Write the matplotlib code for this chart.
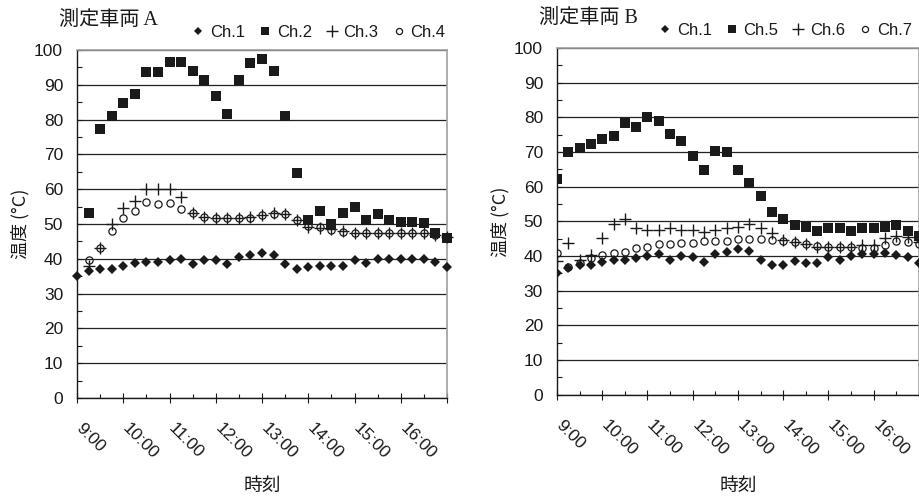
import numpy as np
import matplotlib
matplotlib.use('Agg')
import matplotlib.pyplot as plt
from matplotlib.lines import Line2D
from matplotlib.transforms import ScaledTranslation

nan = np.nan

# measurement times: every 15 minutes from 9:00 to 17:00 (hours)
time_h = np.arange(9.0, 17.01, 0.25)
tick_hours = [9, 10, 11, 12, 13, 14, 15, 16]
tick_labels = ['9:00', '10:00', '11:00', '12:00', '13:00', '14:00', '15:00', '16:00']

# vehicle A
a_ch1 = [35.0, 36.6, 37.0, 37.0, 37.9, 38.7, 39.2, 39.2, 39.7, 40.0, 38.5, 39.7, 39.7, 38.5, 40.6, 41.1, 41.8,
         41.1, 38.5, 37.0, 37.5, 37.9, 37.9, 37.9, 39.7, 38.7, 40.0, 40.0, 40.0, 40.0, 40.0, 39.1, 37.5]
a_ch2 = [nan, 53.2, 77.3, 81.0, 84.7, 87.4, 93.6, 93.6, 96.6, 96.6, 94.1, 91.4, 86.8, 81.6, 91.4, 96.2, 97.3,
         94.1, 81.0, 64.7, 51.1, 53.8, 49.9, 53.2, 55.0, 51.1, 52.8, 51.1, 50.7, 50.7, 50.2, 47.5, 46.1]
a_ch3 = [nan, 38.0, 43.2, 50.0, 54.7, 56.7, 60.0, 60.0, 60.0, 57.7, 53.2, 52.1, 51.6, 51.6, 51.6, 51.9, 52.6,
         53.2, 52.9, 51.1, 49.2, 48.9, 48.5, 48.0, 47.5, 47.5, 47.5, 47.5, 47.5, 47.5, 47.5, 46.8, 46.2]
a_ch4 = [nan, 39.7, 43.2, 48.1, 51.6, 53.7, 56.2, 55.7, 55.9, 54.2, 53.2, 52.1, 51.6, 51.6, 51.6, 51.6, 52.6,
         53.0, 52.9, 51.1, 49.4, 49.0, 48.3, 47.8, 47.3, 47.3, 47.3, 47.3, 47.3, 47.3, 47.3, 46.8, 46.2]

# vehicle B
b_ch1 = [35.2, 36.5, 37.4, 37.4, 38.4, 38.8, 38.8, 39.3, 40.0, 40.6, 38.8, 40.0, 39.6, 38.4, 40.6, 41.2, 42.0,
         41.5, 38.8, 37.4, 37.4, 38.6, 37.9, 37.9, 39.8, 38.8, 40.0, 40.6, 40.6, 40.8, 40.3, 39.6, 38.1]
b_ch5 = [62.1, 69.9, 71.0, 72.2, 73.6, 74.7, 78.4, 77.3, 80.0, 78.9, 75.2, 73.1, 68.8, 64.8, 70.3, 69.9, 64.8,
         61.1, 57.4, 52.6, 50.6, 48.9, 48.4, 47.3, 48.0, 48.0, 47.3, 48.0, 48.0, 48.4, 48.9, 47.3, 45.8]
b_ch6 = [38.6, 43.8, 38.8, 40.3, 45.1, 49.2, 50.6, 48.0, 47.5, 47.5, 48.0, 47.5, 47.5, 47.0, 47.5, 48.0, 48.4,
         49.2, 48.0, 46.5, 44.6, 44.1, 43.5, 42.7, 42.7, 42.7, 42.7, 43.2, 43.2, 45.1, 45.8, 45.4, 44.1]
b_ch7 = [40.8, 36.7, 38.0, 39.3, 40.3, 40.8, 41.2, 42.2, 42.7, 43.4, 43.4, 43.8, 43.8, 44.3, 44.3, 44.3, 44.8,
         44.8, 44.8, 44.6, 44.3, 43.9, 43.4, 43.0, 42.7, 42.7, 42.7, 42.2, 42.2, 43.2, 44.3, 43.9, 43.5]

plt.rcParams['font.family'] = ['Liberation Sans', 'Noto Sans CJK JP']
ink = '#1a1a1a'
cjk = ['Noto Sans CJK JP']

styles = [
    dict(marker='D', ms=4.8, mfc=ink, mec=ink, mew=0),
    dict(marker='s', ms=6.8, mfc=ink, mec=ink, mew=0),
    dict(marker='+', ms=8.5, mfc='none', mec=ink, mew=1.0),
    dict(marker='o', ms=5.2, mfc='none', mec=ink, mew=0.9),
]
legend_styles = [
    dict(marker='D', ms=3.8, mfc=ink, mec=ink, mew=0),
    dict(marker='s', ms=5.8, mfc=ink, mec=ink, mew=0),
    dict(marker='+', ms=9, mfc='none', mec=ink, mew=1.0),
    dict(marker='o', ms=4.4, mfc='none', mec=ink, mew=0.9),
]

fig = plt.figure(figsize=(9.2, 4.97), dpi=100)
ax_a = fig.add_axes([0.0837, 0.1992, 0.4022, 0.7002])
ax_b = fig.add_axes([0.6054, 0.2056, 0.3935, 0.6982])


def draw_panel(ax, series, names, title, clip, leg_x):
    for vals, st in zip(series, styles):
        ax.plot(time_h, vals, linestyle='none', clip_on=clip, zorder=3, **st)
    ax.set_xlim(9, 17)
    ax.set_ylim(0, 100)
    ax.set_yticks(range(0, 101, 10))
    ax.set_yticks(range(5, 100, 10), minor=True)
    ax.set_xticks(list(range(9, 18)))
    ax.set_xticklabels(tick_labels + [''])
    ax.set_xticks(np.arange(9.5, 17, 1.0), minor=True)
    ax.grid(axis='y', which='major', color='#222222', linewidth=0.9, zorder=1)
    ax.tick_params(axis='y', which='both', direction='in', length=3.5, width=0.8, colors=ink,
                   labelsize=12.5, pad=10)
    ax.tick_params(axis='x', which='major', direction='inout', length=7, width=0.8, colors=ink,
                   labelsize=12.5, pad=13)
    ax.tick_params(axis='x', which='minor', direction='in', length=3, width=0.8, colors=ink)
    for lab in ax.get_xticklabels():
        lab.set_rotation(-45)
        lab.set_ha('left')
        lab.set_va('top')
        lab.set_rotation_mode('anchor')
        lab.set_transform(lab.get_transform() + ScaledTranslation(7 / 100, 0, fig.dpi_scale_trans))
    for s in ['left', 'bottom']:
        ax.spines[s].set_color(ink)
        ax.spines[s].set_linewidth(1.0)
    for s in ['top', 'right']:
        ax.spines[s].set_color('#a0a0a0')
        ax.spines[s].set_linewidth(1.2)
    ax.set_ylabel('温度 (°C)', family=cjk, fontsize=13, labelpad=3, color=ink)
    # x label placed in figure coordinates, centred under the axes
    box = ax.get_position()
    fig.text((box.x0 + box.x1) / 2, 1 - 485 / 497, '時刻', family=cjk, fontsize=13.5,
             ha='center', va='center', color=ink)
    ax.text(-0.05, 1.072, title, transform=ax.transAxes, ha='left', va='baseline',
            family=['Liberation Serif', 'Noto Sans CJK JP'], fontsize=14.5, color=ink)
    handles = [Line2D([], [], linestyle='none', **st) for st in legend_styles]
    ax.legend(handles, names, loc='center right', bbox_to_anchor=(leg_x, 1.05), ncol=4,
              frameon=False, borderaxespad=0, borderpad=0, handlelength=0.7, handletextpad=0.35,
              columnspacing=0.85, fontsize=12, labelcolor=ink)


draw_panel(ax_a, [a_ch1, a_ch2, a_ch3, a_ch4], ['Ch.1', 'Ch.2', 'Ch.3', 'Ch.4'], '測定車両 A', False, 0.995)
draw_panel(ax_b, [b_ch1, b_ch5, b_ch6, b_ch7], ['Ch.1', 'Ch.5', 'Ch.6', 'Ch.7'], '測定車両 B', True, 0.98)

fig.savefig('out.png', dpi=100)
